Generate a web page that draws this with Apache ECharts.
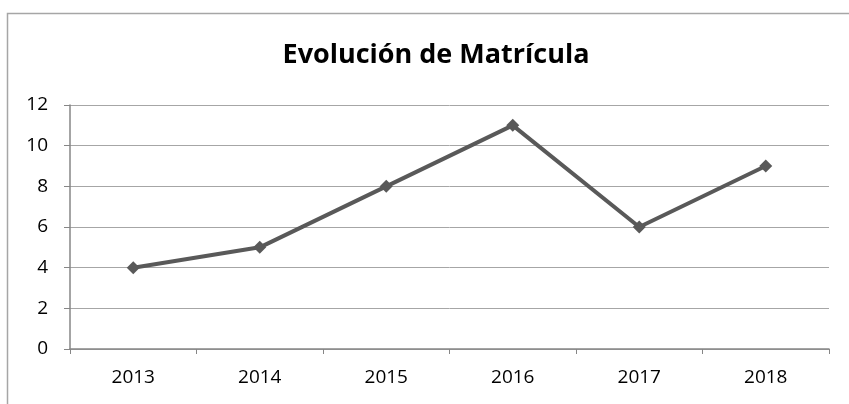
<!DOCTYPE html>
<html>
<head>
<meta charset="utf-8">
<script src="https://cdn.jsdelivr.net/npm/echarts@6/dist/echarts.min.js"></script>
<style>
  html, body { margin: 0; padding: 0; background: #fff; }
  #chart { width: 849px; height: 404px; }
</style>
</head>
<body>
<div id="chart"></div>
<script>
var years = ['2013', '2014', '2015', '2016', '2017', '2018'];
var matricula = [4, 5, 8, 11, 6, 9];
var yTicks = [0, 2, 4, 6, 8, 10, 12];

var chart = echarts.init(document.getElementById('chart'), null, { renderer: 'canvas' });

chart.setOption({
    animation: false,
    backgroundColor: '#fff',
    // outer chart border, runs off the right and bottom edge like in the picture
    graphic: [{
        type: 'rect',
        shape: { x: 7.5, y: 13.5, width: 900, height: 500 },
        style: { fill: 'none', stroke: '#a6a6a6', lineWidth: 1.5 },
        silent: true
    }],
    title: {
        text: 'Evolución de Matrícula',
        left: 431,
        top: 37,
        textAlign: 'center',
        textStyle: {
            fontFamily: 'Open Sans',
            fontWeight: 'bold',
            fontSize: 27,
            color: '#000'
        }
    },
    grid: { left: 70, right: 20, top: 105, bottom: 55, containLabel: false },
    xAxis: {
        type: 'category',
        data: years,
        boundaryGap: true,
        axisLine: { lineStyle: { color: '#868686', width: 1.5 } },
        axisTick: { show: true, length: 5, alignWithLabel: false, lineStyle: { color: '#868686' } },
        axisLabel: { color: '#000', fontSize: 19, fontFamily: 'Open Sans', margin: 19 }
    },
    yAxis: {
        type: 'value',
        min: yTicks[0],
        max: yTicks[yTicks.length - 1],
        interval: 2,
        axisLine: { show: true, lineStyle: { color: '#868686', width: 1.5 } },
        axisTick: { show: true, length: 6, lineStyle: { color: '#868686' } },
        axisLabel: { color: '#000', fontSize: 19, fontFamily: 'Open Sans', margin: 22 },
        splitLine: { lineStyle: { color: '#a6a6a6', width: 1 } }
    },
    series: [{
        type: 'line',
        data: matricula,
        symbol: 'diamond',
        symbolSize: 13,
        lineStyle: { color: '#595959', width: 4 },
        itemStyle: { color: '#595959' }
    }]
});
</script>
</body>
</html>
